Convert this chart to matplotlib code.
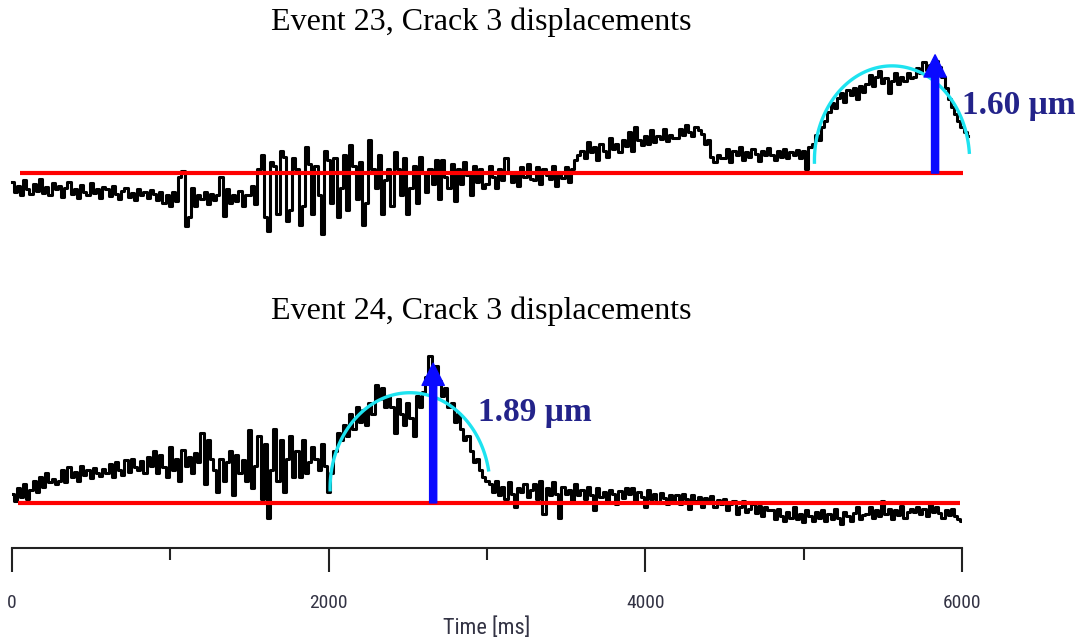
import numpy as np
import matplotlib.pyplot as plt

# sampling step of both records [ms]
dt = 20

# Event 23, crack 3 displacement [um] relative to the red baseline
event23 = [
    -0.12, -0.26, -0.18, -0.30, -0.10, -0.22, -0.28, -0.15, -0.24, -0.08, -0.27, -0.19, -0.30, -0.14, -0.22,
    -0.18, -0.32, -0.20, -0.12, -0.28, -0.22, -0.34, -0.16, -0.25, -0.30, -0.14, -0.27, -0.21, -0.33, -0.19,
    -0.22, -0.31, -0.18, -0.28, -0.35, -0.24, -0.20, -0.32, -0.27, -0.36, -0.22, -0.29, -0.25, -0.33, -0.23,
    -0.28, -0.36, -0.25, -0.40, -0.30, -0.45, -0.26, -0.38, -0.05, 0.03, -0.72, -0.60, -0.20, -0.45, -0.30,
    -0.35, -0.25, -0.42, -0.28, -0.36, -0.30, -0.05, -0.58, -0.22, -0.40, -0.30, -0.38, -0.24, -0.44, -0.30,
    -0.30, -0.18, -0.42, 0.05, 0.25, -0.60, -0.78, 0.15, 0.10, -0.55, 0.30, 0.22, -0.65, -0.50, 0.20,
    0.05, -0.70, -0.45, 0.35, 0.12, -0.55, 0.10, -0.30, -0.82, 0.30, 0.18, -0.40, 0.20, -0.60, -0.20,
    0.25, -0.50, 0.38, 0.10, -0.35, 0.15, -0.70, -0.40, 0.45, 0.05, -0.20, 0.25, -0.55, -0.10, 0.05,
    -0.45, 0.28, 0.05, -0.30, 0.20, -0.55, -0.20, 0.10, -0.40, 0.22, 0.00, -0.25, 0.05, -0.15, 0.18,
    -0.35, 0.18, -0.05, -0.20, 0.12, -0.38, 0.05, -0.15, 0.15, -0.02, -0.30, 0.10, -0.12, 0.05, -0.20,
    -0.15, 0.10, -0.05, -0.20, 0.05, -0.10, 0.20, 0.00, -0.12, 0.02, -0.18, 0.08, -0.05, 0.12, -0.08,
    -0.10, 0.08, -0.15, 0.05, -0.02, -0.08, 0.10, -0.18, 0.02, -0.06, 0.08, -0.12, 0.05, 0.18, 0.25,
    0.30, 0.20, 0.42, 0.28, 0.35, 0.18, 0.40, 0.30, 0.22, 0.48, 0.32, 0.40, 0.28, 0.45, 0.36,
    0.55, 0.30, 0.62, 0.45, 0.38, 0.50, 0.40, 0.58, 0.42, 0.50, 0.46, 0.60, 0.44, 0.52, 0.48,
    0.48, 0.60, 0.52, 0.65, 0.55, 0.50, 0.62, 0.58, 0.53, 0.40, 0.45, 0.22, 0.15, 0.25, 0.20,
    0.20, 0.32, 0.15, 0.30, 0.25, 0.35, 0.18, 0.28, 0.22, 0.33, 0.26, 0.16, 0.30, 0.24, 0.34,
    0.25, 0.18, 0.30, 0.22, 0.33, 0.20, 0.28, 0.24, 0.31, 0.20, 0.30, 0.05, 0.35, 0.40, 0.52,
    0.45, 0.62, 0.70, 0.82, 0.95, 0.88, 1.02, 1.08, 0.96, 1.12, 1.05, 1.15, 1.00, 1.18, 1.10,
    1.20, 1.32, 1.18, 1.30, 1.38, 1.22, 1.28, 1.08, 1.25, 1.35, 1.20, 1.30, 1.24, 1.36, 1.28,
    1.30, 1.42, 1.35, 1.50, 1.40, 1.46, 1.38, 1.52, 1.44, 1.30, 1.15, 1.00, 0.90, 0.80, 0.70,
    0.62, 0.55, 0.50,
]

# Event 24, crack 3 displacement [um]
event24 = [
    0.12, 0.02, 0.20, 0.08, 0.25, 0.05, 0.18, 0.30, 0.15, 0.35, 0.22, 0.40, 0.28, 0.32, 0.25,
    0.30, 0.45, 0.28, 0.48, 0.35, 0.42, 0.30, 0.50, 0.38, 0.44, 0.33, 0.47, 0.40, 0.36, 0.46,
    0.40, 0.52, 0.35, 0.55, 0.45, 0.38, 0.58, 0.42, 0.60, 0.48, 0.44, 0.56, 0.40, 0.62, 0.50,
    0.70, 0.40, 0.65, 0.48, 0.35, 0.75, 0.45, 0.60, 0.30, 0.72, 0.50, 0.62, 0.40, 0.68, 0.55,
    0.95, 0.25, 0.85, 0.60, 0.45, 0.15, 0.60, 0.30, 0.55, 0.70, 0.10, 0.65, 0.40, 0.58, 0.30,
    0.98, 0.20, 0.50, 0.90, 0.05, 0.80, -0.20, 0.45, 1.00, 0.30, 0.85, 0.15, 0.60, 0.90, 0.35,
    0.70, 0.35, 0.85, 0.40, 0.55, 0.75, 0.60, 0.45, 0.80, 0.50, 0.15, 0.40, 0.70, 0.95, 0.85,
    1.05, 0.90, 1.20, 1.00, 1.30, 1.10, 1.25, 1.05, 1.35, 1.20, 1.60, 1.40, 1.55, 1.30, 1.45,
    1.30, 0.95, 1.40, 1.20, 1.05, 1.35, 1.15, 0.90, 1.45, 1.30, 1.50, 1.70, 1.98, 1.55, 1.85,
    1.65, 1.45, 1.55, 1.30, 1.35, 1.10, 1.20, 1.00, 0.85, 0.90, 0.70, 0.55, 0.60, 0.45, 0.35,
    0.30, 0.25, 0.15, 0.30, 0.10, 0.22, 0.05, 0.28, 0.12, -0.05, 0.20, 0.15, 0.25, 0.08, 0.18,
    0.25, 0.05, 0.30, -0.15, 0.20, 0.10, 0.28, 0.12, -0.20, 0.22, 0.12, 0.18, 0.02, 0.25, 0.10,
    0.18, 0.05, 0.22, 0.10, -0.10, 0.20, 0.08, 0.15, 0.02, 0.18, 0.12, -0.02, 0.16, 0.06, 0.20,
    0.12, 0.20, 0.02, 0.15, 0.08, -0.05, 0.18, 0.05, 0.12, 0.00, 0.14, 0.06, -0.02, 0.10, 0.04,
    0.10, -0.02, 0.12, 0.05, -0.08, 0.10, 0.02, 0.08, -0.05, 0.06, 0.00, 0.09, -0.06, 0.04, -0.02,
    0.05, -0.10, -0.02, 0.03, -0.15, -0.05, 0.02, -0.12, -0.08, -0.02, -0.14, -0.04, -0.18, -0.06, -0.10,
    -0.10, -0.22, -0.08, -0.18, -0.25, -0.12, -0.20, -0.05, -0.22, -0.15, -0.26, -0.10, -0.18, -0.24, -0.12,
    -0.20, -0.10, -0.25, -0.15, -0.22, -0.08, -0.20, -0.28, -0.12, -0.18, -0.24, -0.14, -0.06, -0.22, -0.16,
    -0.15, -0.05, -0.20, -0.10, -0.18, 0.02, -0.15, -0.08, -0.22, -0.10, -0.16, -0.04, -0.20, -0.12, -0.08,
    -0.12, -0.05, -0.15, -0.08, -0.18, -0.02, -0.12, -0.06, -0.14, -0.20, -0.10, -0.16, -0.08, -0.18, -0.22,
    -0.25,
]

# peak displacement markers: (time [ms], value [um]) and label
peak23 = (5830, 1.60)
peak24 = (2660, 1.89)
labels = ["1.60 \u03bcm", "1.89 \u03bcm"]
titles = ["Event 23, Crack 3 displacements", "Event 24, Crack 3 displacements"]

# fitted half-ellipses: centre time, centre value, half-width [ms], half-height [um], angle range
fit23 = (5558, 0.17, 490, 1.28, 5, 181)
fit24 = (2514, 0.20, 505, 1.29, 11, 181)

t23 = np.arange(len(event23)) * dt
t24 = np.arange(len(event24)) * dt
offset = 4.46  # vertical shift of the upper record

fig = plt.figure(figsize=(10.83, 6.44), dpi=100)
ax = fig.add_axes([12 / 1083, 96 / 644, 950 / 1083, 508 / 644])
ax.set_xlim(0, 6000)
ax.set_ylim(-0.61, 6.26)

# traces
ax.plot(t23, np.array(event23) + offset, color="black", lw=2.2,
        drawstyle="steps-mid", zorder=2, clip_on=False)
ax.plot(t24, event24, color="black", lw=2.2, drawstyle="steps-mid", zorder=2)

# baselines
ax.hlines(offset, 50, 6006, color="red", lw=3, zorder=3, clip_on=False)
ax.hlines(0, 40, 5990, color="red", lw=3, zorder=3)


def half_ellipse(fit, base):
    tc, vc, a, b, th1, th2 = fit
    th = np.radians(np.linspace(th1, th2, 120))
    return tc + a * np.cos(th), base + vc + b * np.sin(th)


for fit, base in [(fit23, offset), (fit24, 0)]:
    xs, ys = half_ellipse(fit, base)
    ax.plot(xs, ys, color="#1ee3f0", lw=2.4, zorder=4, clip_on=False)

# peak arrows
arrow = dict(arrowstyle="simple,head_length=1.0,head_width=1.0,tail_width=0.32",
             color="#0a0aff", mutation_scale=16, shrinkA=0, shrinkB=0)
ax.annotate("", xy=(peak23[0], offset + peak23[1]), xytext=(peak23[0], offset),
            arrowprops=arrow, zorder=5)
ax.annotate("", xy=(peak24[0], peak24[1]), xytext=(peak24[0], 0),
            arrowprops=arrow, zorder=5)

lab_style = dict(fontsize=24, fontweight="bold", color="#23238a",
                 family="Liberation Serif", va="center", ha="left")
ax.text(6000, offset + 0.92, labels[0], **lab_style)
ax.text(2943, 1.22, labels[1], **lab_style)

# titles
fig.text(481 / 1083, 1 - 22 / 644, titles[0], ha="center", va="center",
         fontsize=23, family="Liberation Serif")
fig.text(481 / 1083, 1 - 311 / 644, titles[1], ha="center", va="center",
         fontsize=23, family="Liberation Serif")

# time axis
narrow = ["Liberation Sans Narrow", "Roboto Condensed", "Liberation Sans"]
for s in ["top", "left", "right"]:
    ax.spines[s].set_visible(False)
ax.spines["bottom"].set_linewidth(1.5)
ax.spines["bottom"].set_color("#222222")
ax.set_yticks([])
ax.set_xticks([0, 2000, 4000, 6000])
ax.set_xticks([1000, 3000, 5000], minor=True)
ax.tick_params(axis="x", which="major", length=17, width=1.5, color="#222222",
               pad=16, labelsize=14, labelcolor="#333344")
ax.tick_params(axis="x", which="minor", length=8.5, width=1.5, color="#222222")
for lab in ax.get_xticklabels():
    lab.set_family(narrow)
ax.set_xlabel("Time [ms]", fontsize=16, color="#333344", family=narrow,
              labelpad=4)

fig.savefig("out.png", dpi=100)
